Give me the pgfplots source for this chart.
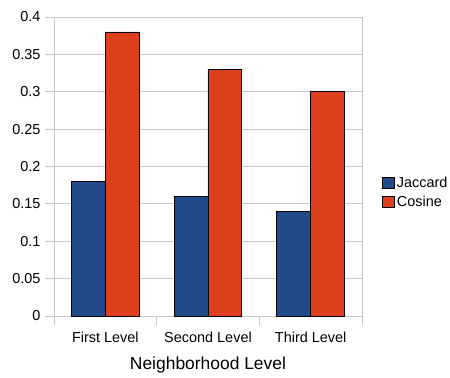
\documentclass[border=0pt]{standalone}
\usepackage{pgfplots}
\pgfplotsset{compat=1.18}
\usepackage{fontspec}
\setmainfont{Liberation Sans}
\definecolor{jac}{RGB}{34,73,137}
\definecolor{cos}{RGB}{221,63,29}
\definecolor{gridc}{RGB}{200,200,200}
\begin{document}
\begin{tikzpicture}
\begin{axis}[
  scale only axis,
  width=308bp, height=299bp,
  xmin=-0.5, xmax=2.5,
  ymin=0, ymax=0.4,
  ybar=0pt, bar width=0.33,
  xtick={-0.5,0.5,1.5,2.5},
  xticklabels={},
  extra x ticks={0,1,2},
  extra x tick labels={First Level,Second Level,Third Level},
  extra x tick style={tick style={draw=none}, xticklabel style={yshift=-3bp}},
  ytick={0,0.05,0.1,0.15,0.2,0.25,0.3,0.35,0.4},
  yticklabels={0,0.05,0.1,0.15,0.2,0.25,0.3,0.35,0.4},
  scaled y ticks=false,
  xtick pos=bottom, ytick pos=left,
  tick align=outside,
  major tick length=9bp,
  tick style={gridc, line width=0.8bp},
  ymajorgrids,
  grid style={gridc, line width=0.8bp},
  axis line style={gridc, line width=0.8bp},
  ticklabel style={font=\fontsize{14.5}{17}\selectfont},
  yticklabel style={xshift=-1bp},
  xlabel={Neighborhood Level},
  xlabel style={font=\fontsize{17.5}{20}\selectfont, yshift=1bp},
  clip=false,
  legend style={draw=none, fill=none, at={(1.065,0.413)}, anchor=west,
    font=\fontsize{14.5}{17}\selectfont, inner sep=0pt, row sep=3bp,
    cells={anchor=west}},
  legend image code/.code={\draw[#1, draw=black, line width=0.7bp] (0bp,-5.5bp) rectangle (12bp,5.5bp);},
]
\addplot[fill=jac, draw=black, line width=0.8bp] coordinates {(0,0.18) (1,0.16) (2,0.14)};
\addplot[fill=cos, draw=black, line width=0.8bp] coordinates {(0,0.38) (1,0.33) (2,0.30)};
\legend{Jaccard,Cosine}
\path (rel axis cs:-0.1753,-0.2040) rectangle (rel axis cs:1.2857,1.0569);
\end{axis}
\end{tikzpicture}
\end{document}
